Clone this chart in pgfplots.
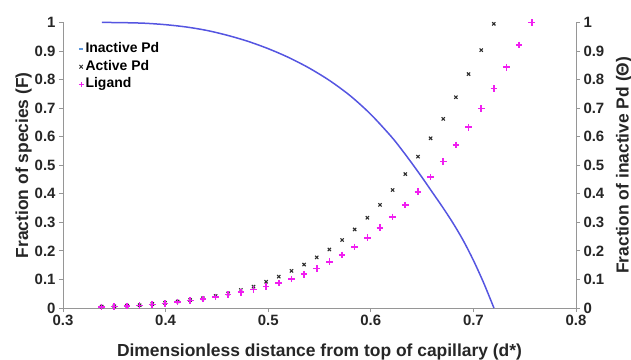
\documentclass[border=0pt]{standalone}
\usepackage{fontspec}
\setmainfont{Liberation Sans}
\usepackage{pgfplots}
\pgfplotsset{compat=1.18}
\definecolor{inactblue}{RGB}{85,85,225}
\definecolor{legblue}{RGB}{90,150,220}
\definecolor{ligmag}{RGB}{240,30,240}
\definecolor{axgray}{RGB}{150,150,150}
\definecolor{actblack}{RGB}{45,45,45}

\begin{document}
\begin{tikzpicture}
\pgfplotsset{
  common/.style={
    scale only axis, width=513bp, height=285.6bp,
    xmin=0.3, xmax=0.8, ymin=0, ymax=1,
    clip=false,
    axis line style={draw=axgray, line width=0.8bp, -},
    tick style={draw=axgray, line width=0.8bp},
    /pgf/number format/assume math mode=true,
    ticklabel style={font=\bfseries\fontsize{15}{15}\selectfont, text=black!85},
    ytick={0,0.1,0.2,0.3,0.4,0.5,0.6,0.7,0.8,0.9,1},
  }
}
\begin{axis}[common,
  axis x line=bottom, axis y line=left,
  axis line style={draw=axgray, line width=0.8bp, -},
  tick align=outside, major tick length=4bp,
  xtick={0.3,0.4,0.5,0.6,0.7,0.8},
  xlabel={Dimensionless distance from top of capillary (d*)},
  ylabel={Fraction of species (F)},
  xlabel style={at={(axis description cs:0.5,-0.154)}, anchor=center,
    font=\bfseries\fontsize{17.5}{17.5}\selectfont, text=black!85},
  ylabel style={at={(axis description cs:-0.077,0.5)}, anchor=center,
    font=\bfseries\fontsize{17.5}{17.5}\selectfont, text=black!85},
  legend style={at={(axis description cs:0.029,0.933)}, anchor=north west,
    draw=none, fill=none, font=\bfseries\fontsize{14}{14}\selectfont,
    row sep=2.5bp, inner sep=0pt,
    nodes={text height=10bp, text depth=3bp, inner sep=1bp}},
  legend cell align=left,
]
\addplot[inactblue, line width=1.5bp, no marks, smooth,
  legend image code/.code={\draw[legblue, line width=1.6bp] (0bp,0bp) -- (4.5bp,0bp);}]
  coordinates {
  (0.338,1.000) (0.36,0.999) (0.38,0.997) (0.40,0.992) (0.42,0.984)
  (0.44,0.972) (0.46,0.955) (0.48,0.934) (0.50,0.908) (0.52,0.877)
  (0.54,0.840) (0.56,0.796) (0.58,0.743) (0.60,0.678) (0.62,0.600)
  (0.63,0.555) (0.64,0.507) (0.65,0.457) (0.66,0.405) (0.67,0.353)
  (0.68,0.298) (0.69,0.237) (0.70,0.167) (0.71,0.088) (0.72,0.0)
  };
\addlegendentry{Inactive Pd}
\addplot[only marks, mark=x, mark size=2.3bp, draw=actblack, line width=1.1bp,
  legend image code/.code={\draw[actblack, line width=0.9bp] (0.5bp,-1.8bp) -- (4bp,1.8bp) (0.5bp,1.8bp) -- (4bp,-1.8bp);}]
  coordinates {
  (0.3377,0.005) (0.3500,0.006) (0.3624,0.008) (0.3747,0.010) (0.3870,0.014)
  (0.3994,0.018) (0.4117,0.023) (0.4240,0.028) (0.4363,0.034) (0.4487,0.042)
  (0.4610,0.051) (0.4733,0.063) (0.4857,0.075) (0.4980,0.092) (0.5103,0.110)
  (0.5227,0.130) (0.5350,0.152) (0.5473,0.177) (0.5596,0.205) (0.5720,0.238)
  (0.5843,0.275) (0.5966,0.316) (0.6090,0.361) (0.6213,0.413) (0.6336,0.469)
  (0.6460,0.530) (0.6583,0.594) (0.6706,0.662) (0.6829,0.738) (0.6953,0.819)
  (0.7076,0.903) (0.7199,0.995)
  };
\addlegendentry{Active Pd}
\addplot[only marks, mark=+, mark size=3.3bp, draw=ligmag, line width=1.6bp,
  legend image code/.code={\draw[ligmag, line width=1.4bp] (0bp,0bp) -- (5bp,0bp) (2.5bp,-2.5bp) -- (2.5bp,2.5bp);}]
  coordinates {
  (0.3377,0.004) (0.3500,0.005) (0.3624,0.007) (0.3747,0.009) (0.3870,0.012)
  (0.3994,0.016) (0.4117,0.021) (0.4240,0.026) (0.4363,0.032) (0.4487,0.039)
  (0.4610,0.047) (0.4733,0.055) (0.4857,0.065) (0.4980,0.075) (0.5103,0.087)
  (0.5227,0.101) (0.5350,0.118) (0.5473,0.139) (0.5596,0.162) (0.5720,0.186)
  (0.5843,0.214) (0.5966,0.246) (0.6090,0.281) (0.6213,0.319) (0.6336,0.360)
  (0.6460,0.407) (0.6583,0.458) (0.6706,0.513) (0.6829,0.571) (0.6953,0.633)
  (0.7076,0.699) (0.7199,0.769) (0.7323,0.843) (0.7446,0.921) (0.7569,1.000)
  };
\addlegendentry{Ligand}
\end{axis}
\begin{axis}[common,
  axis x line=none, axis y line=right,
  axis line style={draw=axgray, line width=0.8bp, -},
  tick align=outside, major tick length=4bp,
  ylabel={Fraction of inactive Pd (\symbol{"0398})},
  ylabel style={at={(axis description cs:1.094,0.5)}, anchor=center,
    font=\bfseries\fontsize{17.5}{17.5}\selectfont, text=black!85},
]
\addplot[draw=none] coordinates {(0.3,0) (0.8,1)};
\end{axis}
\pgfresetboundingbox
\path (-63bp,-52bp) rectangle (568bp,308bp);
\end{tikzpicture}
\end{document}
